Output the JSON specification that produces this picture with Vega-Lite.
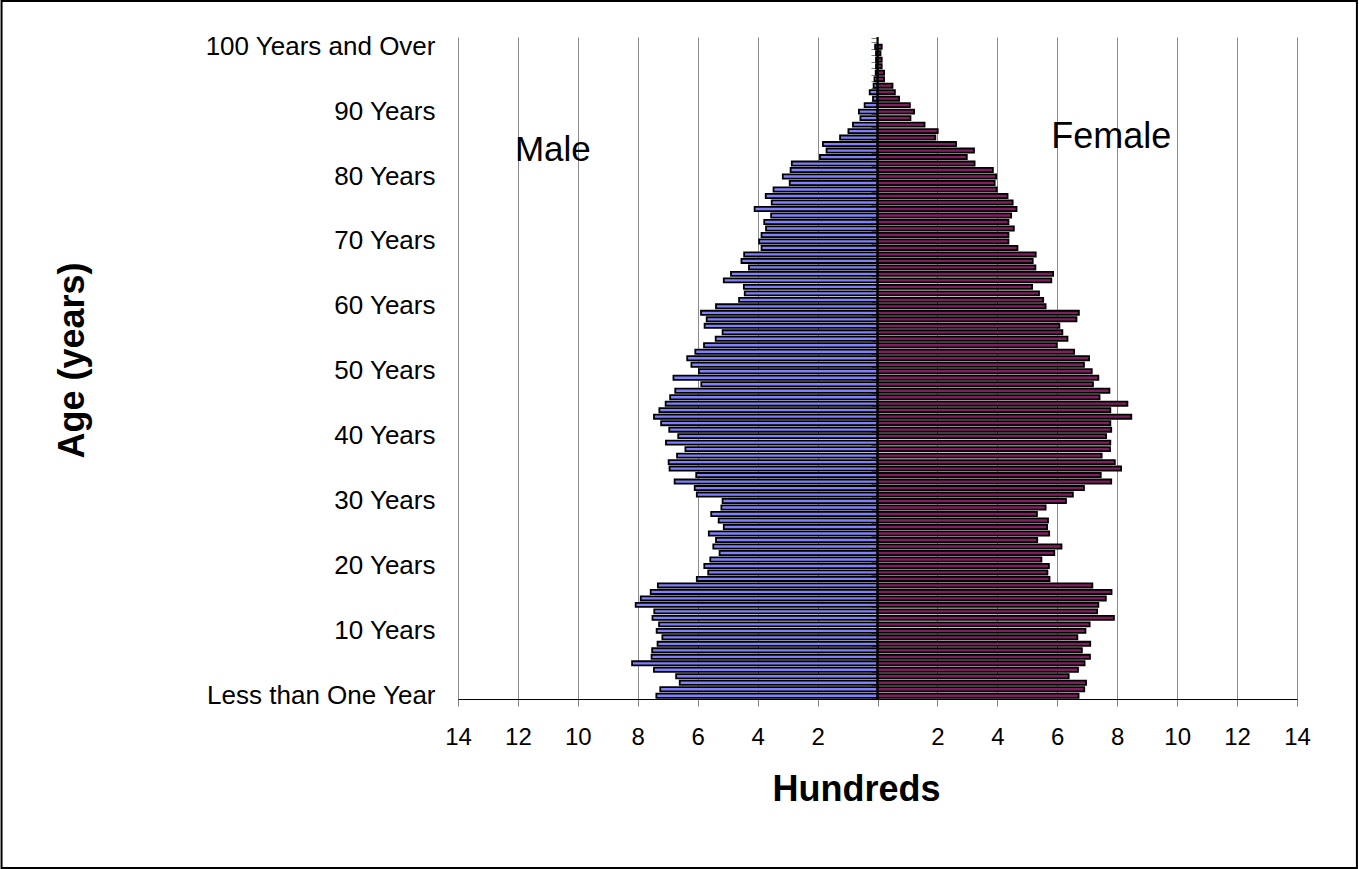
{
  "$schema": "https://vega.github.io/schema/vega-lite/v6.json",
  "width": 839,
  "height": 662,
  "autosize": {"type": "none"},
  "padding": {"left": 458, "top": 37, "right": 62, "bottom": 170},
  "background": "white",
  "config": {
    "view": {"stroke": null},
    "font": "Liberation Sans",
    "axis": {"labelFont": "Liberation Sans", "titleFont": "Liberation Sans", "labelColor": "black", "titleColor": "black"},
    "text": {"font": "Liberation Sans"}
  },
  "data": {"values": [
    {"age":0,"Male":-7.38,"Female":6.71},
    {"age":1,"Male":-7.25,"Female":6.90},
    {"age":2,"Male":-6.60,"Female":6.96},
    {"age":3,"Male":-6.72,"Female":6.38},
    {"age":4,"Male":-7.46,"Female":6.69},
    {"age":5,"Male":-8.19,"Female":6.91},
    {"age":6,"Male":-7.54,"Female":7.09},
    {"age":7,"Male":-7.52,"Female":6.82},
    {"age":8,"Male":-7.34,"Female":7.10},
    {"age":9,"Male":-7.18,"Female":6.67},
    {"age":10,"Male":-7.37,"Female":6.94},
    {"age":11,"Male":-7.29,"Female":7.08},
    {"age":12,"Male":-7.51,"Female":7.89},
    {"age":13,"Male":-7.45,"Female":7.33},
    {"age":14,"Male":-8.07,"Female":7.37},
    {"age":15,"Male":-7.90,"Female":7.62},
    {"age":16,"Male":-7.57,"Female":7.81},
    {"age":17,"Male":-7.33,"Female":7.17},
    {"age":18,"Male":-6.03,"Female":5.74},
    {"age":19,"Male":-5.65,"Female":5.67},
    {"age":20,"Male":-5.78,"Female":5.72},
    {"age":21,"Male":-5.58,"Female":5.47},
    {"age":22,"Male":-5.27,"Female":5.90},
    {"age":23,"Male":-5.48,"Female":6.14},
    {"age":24,"Male":-5.39,"Female":5.33},
    {"age":25,"Male":-5.63,"Female":5.73},
    {"age":26,"Male":-5.13,"Female":5.66},
    {"age":27,"Male":-5.30,"Female":5.69},
    {"age":28,"Male":-5.55,"Female":5.32},
    {"age":29,"Male":-5.21,"Female":5.61},
    {"age":30,"Male":-5.17,"Female":6.29},
    {"age":31,"Male":-6.03,"Female":6.52},
    {"age":32,"Male":-6.10,"Female":6.89},
    {"age":33,"Male":-6.77,"Female":7.80},
    {"age":34,"Male":-6.05,"Female":7.45},
    {"age":35,"Male":-6.94,"Female":8.13},
    {"age":36,"Male":-6.97,"Female":7.92},
    {"age":37,"Male":-6.69,"Female":7.48},
    {"age":38,"Male":-6.41,"Female":7.76},
    {"age":39,"Male":-7.06,"Female":7.77},
    {"age":40,"Male":-6.65,"Female":7.63},
    {"age":41,"Male":-6.95,"Female":7.80},
    {"age":42,"Male":-7.22,"Female":7.77},
    {"age":43,"Male":-7.46,"Female":8.47},
    {"age":44,"Male":-7.28,"Female":7.77},
    {"age":45,"Male":-7.07,"Female":8.34},
    {"age":46,"Male":-6.92,"Female":7.41},
    {"age":47,"Male":-6.75,"Female":7.74},
    {"age":48,"Male":-5.88,"Female":7.19},
    {"age":49,"Male":-6.81,"Female":7.37},
    {"age":50,"Male":-5.96,"Female":7.15},
    {"age":51,"Male":-6.21,"Female":6.89},
    {"age":52,"Male":-6.35,"Female":7.06},
    {"age":53,"Male":-6.08,"Female":6.56},
    {"age":54,"Male":-5.79,"Female":5.98},
    {"age":55,"Male":-5.40,"Female":6.34},
    {"age":56,"Male":-5.17,"Female":6.17},
    {"age":57,"Male":-5.77,"Female":6.07},
    {"age":58,"Male":-5.70,"Female":6.64},
    {"age":59,"Male":-5.89,"Female":6.72},
    {"age":60,"Male":-5.39,"Female":5.61},
    {"age":61,"Male":-4.62,"Female":5.53},
    {"age":62,"Male":-4.43,"Female":5.39},
    {"age":63,"Male":-4.46,"Female":5.16},
    {"age":64,"Male":-5.13,"Female":5.80},
    {"age":65,"Male":-4.89,"Female":5.86},
    {"age":66,"Male":-4.29,"Female":5.27},
    {"age":67,"Male":-4.54,"Female":5.18},
    {"age":68,"Male":-4.45,"Female":5.28},
    {"age":69,"Male":-3.87,"Female":4.67},
    {"age":70,"Male":-3.95,"Female":4.37},
    {"age":71,"Male":-3.87,"Female":4.37},
    {"age":72,"Male":-3.72,"Female":4.55},
    {"age":73,"Male":-3.78,"Female":4.37},
    {"age":74,"Male":-3.55,"Female":4.46},
    {"age":75,"Male":-4.10,"Female":4.64},
    {"age":76,"Male":-3.53,"Female":4.51},
    {"age":77,"Male":-3.73,"Female":4.34},
    {"age":78,"Male":-3.47,"Female":3.98},
    {"age":79,"Male":-2.93,"Female":3.91},
    {"age":80,"Male":-3.16,"Female":3.96},
    {"age":81,"Male":-2.90,"Female":3.85},
    {"age":82,"Male":-2.86,"Female":3.24},
    {"age":83,"Male":-1.92,"Female":2.98},
    {"age":84,"Male":-1.70,"Female":3.22},
    {"age":85,"Male":-1.82,"Female":2.62},
    {"age":86,"Male":-1.25,"Female":1.93},
    {"age":87,"Male":-0.97,"Female":2.01},
    {"age":88,"Male":-0.82,"Female":1.57},
    {"age":89,"Male":-0.57,"Female":1.10},
    {"age":90,"Male":-0.62,"Female":1.22},
    {"age":91,"Male":-0.43,"Female":1.08},
    {"age":92,"Male":-0.15,"Female":0.72},
    {"age":93,"Male":-0.26,"Female":0.58},
    {"age":94,"Male":-0.13,"Female":0.50},
    {"age":95,"Male":-0.10,"Female":0.22},
    {"age":96,"Male":-0.06,"Female":0.22},
    {"age":97,"Male":-0.05,"Female":0.14},
    {"age":98,"Male":-0.05,"Female":0.14},
    {"age":99,"Male":-0.05,"Female":0.10},
    {"age":100,"Male":-0.08,"Female":0.14}
  ]},
  "transform": [{"fold": ["Male", "Female"], "as": ["sex", "value"]}],
  "layer": [
    {
      "layer": [
        {
          "mark": {"type": "bar", "stroke": "black", "strokeWidth": 1.8},
          "encoding": {
            "y": {
              "field": "age", "type": "ordinal",
              "scale": {
                "domain": [101,100,99,98,97,96,95,94,93,92,91,90,89,88,87,86,85,84,83,82,81,80,79,78,77,76,75,74,73,72,71,70,69,68,67,66,65,64,63,62,61,60,59,58,57,56,55,54,53,52,51,50,49,48,47,46,45,44,43,42,41,40,39,38,37,36,35,34,33,32,31,30,29,28,27,26,25,24,23,22,21,20,19,18,17,16,15,14,13,12,11,10,9,8,7,6,5,4,3,2,1,0],
                "paddingInner": 0.36, "paddingOuter": 0.18
              },
              "axis": {
                "orient": "left", "domain": false, "ticks": false, "tickSize": 0, "grid": false,
                "labelPadding": 23, "labelFontSize": 26, "labelOverlap": false, "labelBound": false, "labelFlush": false, "labelLimit": 0,
                "labelExpr": "datum.value == 0 ? 'Less than One Year' : datum.value == 100 ? '100 Years and Over' : (datum.value % 10 == 0 && datum.value < 100) ? datum.value + ' Years' : ''",
                "title": "Age (years)", "titleFontSize": 36, "titleFontWeight": "bold",
                "titleAngle": -90, "titleX": -375, "titleY": 323, "titleAlign": "center", "titleBaseline": "alphabetic"
              }
            },
            "x": {
              "field": "value", "type": "quantitative", "stack": null,
              "scale": {"domain": [-14, 14], "nice": false, "zero": false},
              "axis": {
                "values": [-14,-12,-10,-8,-6,-4,-2,0,2,4,6,8,10,12,14],
                "labelExpr": "datum.value == 0 ? '' : '' + abs(datum.value)",
                "grid": true, "gridColor": "#8c8c8c", "gridWidth": 1,
                "domain": true, "domainColor": "black", "domainWidth": 1,
                "ticks": true, "tickColor": "#808080", "tickSize": 7,
                "labelFontSize": 24, "labelPadding": 19, "labelFlush": false, "labelOverlap": false,
                "title": "Hundreds", "titleFontSize": 36, "titleFontWeight": "bold",
                "titleX": 398, "titleY": 101, "titleAlign": "center", "titleBaseline": "alphabetic"
              }
            },
            "color": {
              "field": "sex", "type": "nominal",
              "scale": {"domain": ["Male", "Female"], "range": ["#8080FF", "#801F60"]},
              "legend": null
            }
          }
        },
        {
          "mark": {"type": "point", "opacity": 0},
          "encoding": {
            "y": {
              "field": "age", "type": "ordinal",
              "axis": {
                "orient": "left", "offset": -420, "domain": false, "labels": false,
                "ticks": true, "tickSize": 7, "tickColor": "#808080", "tickBand": "extent",
                "grid": false, "title": null
              }
            }
          }
        },
        {
          "data": {"values": [{}]},
          "mark": {"type": "rule", "color": "black", "strokeWidth": 2},
          "encoding": {"x": {"datum": 0}}
        },
        {
          "data": {"values": [{}]},
          "mark": {"type": "text", "text": "Male", "fontSize": 35, "align": "left", "baseline": "alphabetic", "dy": -3, "color": "black"},
          "encoding": {"x": {"datum": -12.1}, "y": {"datum": 82, "type": "ordinal", "axis": null}}
        },
        {
          "data": {"values": [{}]},
          "mark": {"type": "text", "text": "Female", "fontSize": 36, "align": "left", "baseline": "alphabetic", "dy": -3, "color": "black"},
          "encoding": {"x": {"datum": 5.8}, "y": {"datum": 84, "type": "ordinal", "axis": null}}
        }
      ],
      "resolve": {"axis": {"y": "independent"}}
    },
    {
      "data": {"values": [{}]},
      "mark": {"type": "rect", "fill": null, "fillOpacity": 0, "stroke": "black", "strokeWidth": 2},
      "encoding": {
        "x": {"datum": -29.233},
        "x2": {"datum": 16.0},
        "y": {"datum": 1.0544, "type": "quantitative", "scale": {"domain": [0, 1], "nice": false, "zero": false}, "axis": null},
        "y2": {"datum": -0.2553}
      }
    }
  ],
  "resolve": {"scale": {"y": "independent"}, "axis": {"y": "independent"}}
}
